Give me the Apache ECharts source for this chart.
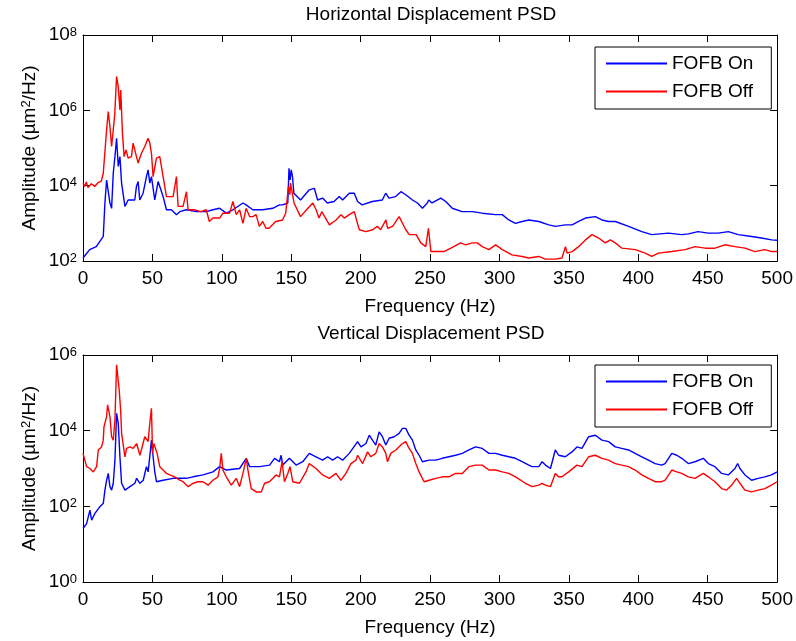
<!DOCTYPE html>
<html><head><meta charset="utf-8">
<script src="https://cdn.jsdelivr.net/npm/echarts@6/dist/echarts.min.js"></script>
<style>html,body{margin:0;padding:0;background:#fff}#c{width:796px;height:641px}</style>
</head><body><div id="c"></div>
<script>
// ---- data ----
const titles = ['Horizontal Displacement PSD', 'Vertical Displacement PSD'];
const seriesNames = ['FOFB On', 'FOFB Off'];
const xLabel = 'Frequency (Hz)';
const xRange = [0, 500];
const topYRange = [1e2, 1e8];
const bottomYRange = [1e0, 1e6];

// Horizontal PSD, FOFB On  [frequency Hz, amplitude um^2/Hz]
const hOn = [[0,120],[4.8,200],[9.6,240],[14.6,450],[15.8,3500],[17,1.41e4],[19.4,3500],[20.6,2500],[21.8,2.14e4],[23,5.9e4],[24.2,1.82e5],[25.4,3.24e4],[26.6,5.9e4],[27.8,1.17e4],[29,1.17e4],[30.2,2820],[32.5,4170],[34.9,4170],[37.3,4170],[38.5,9550],[39.7,1.29e4],[40.9,4170],[43.3,6310],[45.7,1.74e4],[46.9,2.63e4],[48.1,1.17e4],[49.3,1.74e4],[51.7,4170],[54.1,1.29e4],[55.3,1.17e4],[57.7,5130],[60.1,2290],[63.7,2290],[67.3,1700],[69.7,2040],[74.5,2290],[81.7,2040],[88.8,2040],[93.6,2290],[98.4,2510],[103.2,1860],[108,2290],[115.2,3470],[117.5,3090],[122.3,2290],[129.5,2290],[136.7,2510],[141.5,3090],[143.7,3090],[147.5,3470],[148.4,2.88e4],[149.2,1.41e4],[150,2.63e4],[150.9,1.74e4],[151.9,6310],[156.7,4170],[163,7760],[166.6,8510],[169,4170],[172.6,4680],[176,3470],[180.8,3800],[184.6,5130],[187,4170],[191.8,6310],[195.4,6310],[197.8,3800],[201,3090],[208.4,3800],[215.6,4170],[218,6310],[220.4,4680],[225.2,5130],[229,6920],[232.5,5750],[237.3,4170],[240.9,3470],[244.5,2510],[248,3470],[249,4170],[251.4,3470],[257.7,4680],[261.3,3800],[266,2510],[273,2040],[280.5,2040],[287.6,1860],[297.2,1700],[302,1700],[306.7,1230],[311.5,1000],[316.3,1120],[321.2,1230],[328.3,1120],[335.5,912],[340.3,832],[347.5,912],[352.3,912],[357,1120],[361.9,1380],[369,1510],[373.8,1230],[378.6,1120],[383.4,1120],[393,832],[402.5,603],[409.7,501],[421.7,550],[431.3,501],[436.1,525],[443,603],[450.4,550],[457.6,550],[464.8,603],[472,501],[481.6,447],[488.7,407],[496,363],[500,355]];

// Horizontal PSD, FOFB Off
const hOff = [[0,1.17e4],[1.2,9550],[2.4,1.26e4],[3.6,8910],[6,1.12e4],[8.4,9550],[10.8,1.2e4],[13.2,1.32e4],[14.6,2.14e4],[17,3.02e5],[18.2,9.33e5],[19.4,3.72e5],[20.6,1.1e5],[21.8,3.02e5],[22.9,8.32e5],[24.2,7.94e6],[25.4,4.27e6],[26.6,1.02e6],[27.2,3.47e6],[28.4,2.45e5],[29.6,5.89e4],[31,8.91e4],[32.5,5.37e4],[34.9,5.89e4],[36.1,1.35e5],[37.3,1.48e5],[38.5,5.89e4],[39.7,3.98e4],[42.1,7.24e4],[44.5,1.1e5],[46.9,1.82e5],[48.1,1.35e5],[49.3,7.24e4],[50.5,1.74e4],[52.9,5.37e4],[55.3,5.89e4],[57.7,1.74e4],[60.1,5130],[62.5,5130],[64.9,5130],[67.3,1.74e4],[68.5,2820],[72.1,2820],[74.5,6920],[75.7,2290],[80,2290],[85,2040],[88.8,2290],[91,1120],[93.6,1380],[98.4,1380],[100.8,1860],[105.6,1860],[108,3800],[110.4,1700],[112.8,2290],[115.2,1000],[117.5,2510],[120,1510],[122.3,1510],[124.7,1700],[127,832],[129.5,1120],[131.8,741],[134,741],[138.8,1120],[143.7,1230],[146,1860],[148,9550],[149,5750],[149.5,1.17e4],[150.3,1.29e4],[152,3470],[156.7,1510],[161,2290],[165.5,3470],[167.9,2290],[170,1380],[172,2040],[177.5,912],[182.3,1230],[185.8,1700],[188.2,1380],[191.8,1700],[195.4,2040],[199,676],[203.8,603],[208.6,676],[212,832],[214.4,676],[218.2,1230],[219.4,741],[223,832],[227.7,1510],[232.5,676],[235,501],[240,501],[243.3,302],[246.9,240],[248.8,741],[250.6,178],[255,178],[260,178],[265,219],[272,302],[275.7,269],[280.5,302],[284,302],[287.6,240],[292.4,200],[297.2,269],[302,200],[309,145],[316.3,132],[321,120],[328.3,132],[333,112],[340,112],[345,120],[347.5,240],[348.7,162],[352.3,178],[357,240],[361.9,363],[366.6,501],[371.4,407],[376.2,302],[379.8,363],[383.4,302],[388.2,219],[397.8,200],[405,162],[409.7,132],[414.5,162],[424,178],[433.7,200],[440.9,240],[448.1,219],[455.2,219],[462.4,269],[469.6,240],[476.8,219],[484,178],[491.2,200],[496,178],[500,178]];

// Vertical PSD, FOFB On
const vOn = [[0,26],[2.6,35],[5,79],[6.2,43],[8.6,65],[12.2,98],[14.6,120],[15.8,269],[17,490],[18.2,741],[19.4,331],[20.6,269],[21.8,407],[23,1660],[24.2,2.88e4],[25.4,1.55e4],[26.6,2040],[27.8,407],[30.2,269],[33.8,331],[37.4,407],[38.6,550],[41,407],[43.4,490],[45.7,1120],[46.9,813],[48.6,3090],[49.3,5620],[50.5,2040],[51.7,813],[52.9,447],[57.7,490],[64.9,550],[74.5,550],[79.3,603],[86.5,676],[93.6,813],[98.4,1120],[103.2,912],[112.8,1000],[117.6,1860],[120,1120],[127.2,1120],[134.4,1230],[138,1860],[141.5,1510],[142.7,2240],[143.9,1230],[148.7,1860],[153.5,1230],[158.3,1510],[163,2510],[167.8,2040],[172.6,1660],[176.2,2040],[179.8,1660],[183.4,2040],[187,1660],[191.8,2510],[197.8,5130],[200.2,3720],[203.8,4570],[206.2,7590],[208.5,5620],[210.9,4170],[213.3,9330],[215.7,6920],[218.1,4170],[220.5,6310],[224.1,6920],[227.7,8510],[230.1,1.15e4],[232.5,1.15e4],[234.9,7590],[237.3,5620],[239.7,3090],[242.1,2240],[244.5,1510],[249.3,1660],[254.1,1660],[258.8,1860],[263.6,2040],[268.4,2240],[273.2,2510],[278,3090],[282.8,3720],[287.6,3390],[292.4,2510],[297.2,2510],[302,2240],[306.7,2040],[311.5,1860],[316.3,1510],[321.1,1230],[323.5,1120],[328.3,1120],[330.7,1510],[333.1,1230],[336.7,1000],[340.2,3090],[342.6,2240],[347.4,2040],[352.2,2750],[355.8,3720],[359.4,3390],[364.2,6920],[369,7590],[373.8,5620],[378.6,5130],[383.4,3720],[388.1,3390],[392.9,3090],[397.7,2510],[402.5,2040],[407.3,1660],[412.1,1350],[416.9,1230],[419.3,1350],[424.1,2510],[427.7,2240],[431.3,1860],[436,1350],[440.8,1510],[446.8,1860],[450.4,1350],[455.2,1120],[460,741],[464.8,676],[469.6,1000],[471.5,1350],[473.2,1000],[476.8,676],[481.6,490],[486.3,550],[491.1,603],[495.9,676],[500,813]];

// Vertical PSD, FOFB Off
const vOff = [[0,2510],[2.6,1120],[5,1000],[7.4,813],[9.8,1120],[11,3090],[13.4,3720],[14.6,5620],[15.1,1.26e4],[17,2.34e4],[17.7,4.79e4],[19.4,2.34e4],[20.6,6920],[21.8,5620],[23,1.91e4],[24.2,5.5e5],[24.9,6.03e5],[26.1,1.17e5],[27.1,3.47e4],[27.8,8510],[30.2,2040],[31.4,3390],[33.8,3720],[36.2,3390],[38.6,4570],[41,2240],[42.2,2040],[44.5,6920],[46.9,5130],[48.1,1.55e4],[49.3,3.89e4],[50.1,2510],[51,4570],[53.4,2510],[55.3,1120],[57.7,912],[60.1,741],[62.5,676],[66.1,603],[69.7,490],[72.1,447],[75.7,331],[79.3,407],[82.9,447],[86.5,447],[90.1,363],[93.6,490],[97.2,603],[98.4,1000],[99.6,2510],[100.8,912],[103.2,603],[106.8,363],[110.4,550],[112.8,331],[115.2,741],[117.6,1860],[118.8,912],[121.2,295],[124.8,240],[128.4,240],[130.8,407],[134.3,447],[139.1,676],[141.5,603],[143.4,1510],[145.1,447],[147.5,741],[149.1,1120],[151.1,447],[155.9,407],[160.6,813],[163,1350],[167.8,1000],[172.6,676],[177.4,550],[182.2,741],[185.8,490],[189.4,741],[193,1350],[196.6,1660],[197.8,2240],[201.4,1350],[205,2750],[207.3,2040],[210.9,2510],[213.3,4570],[215.7,3720],[218.1,2510],[219.3,1510],[221.7,2510],[225.3,3090],[230.1,4570],[232.5,5130],[234.9,3390],[237.3,2510],[239.7,1350],[242.1,813],[243.3,741],[245.7,447],[249.3,490],[254.1,550],[258.8,603],[263.6,603],[268.4,741],[273.2,741],[278,1120],[282.8,1230],[287.6,1230],[292.4,912],[297.2,912],[302,813],[306.7,741],[311.5,603],[318.7,407],[323.5,331],[328.3,363],[330.7,407],[333.1,363],[336.7,331],[337.9,295],[340.2,741],[342.6,603],[345,603],[349.8,813],[355.8,1230],[359.4,1120],[364.2,2040],[369,2240],[373.8,1860],[378.6,1660],[383.4,1350],[388.1,1230],[392.9,1120],[397.7,912],[402.5,676],[407.3,550],[412.1,447],[416.9,447],[419.3,490],[424.1,912],[427.7,813],[431.3,741],[436,603],[440.8,550],[446.8,741],[450.4,603],[455.2,447],[460,295],[463.6,269],[467.2,363],[470.8,550],[473.2,407],[476.8,269],[481.6,240],[486.3,269],[491.1,295],[495.9,363],[500,447]];

// ---- chart ----
const FONT = 'Liberation Sans, Arial, Helvetica, sans-serif';
const BLUE = '#0000ff', RED = '#ff0000';
const grids = [
  {left: 83, top: 35, width: 696, height: 226},
  {left: 83, top: 355, width: 696, height: 227}
];

function xAx(g, pos, show) {
  return {
    gridIndex: g, type: 'value', position: pos, min: xRange[0], max: xRange[1], interval: 50,
    axisLine: {show: true, onZero: false, lineStyle: {color: '#000', width: 1}},
    axisTick: {show: true, inside: true, length: 7, lineStyle: {color: '#000', width: 1}},
    axisLabel: {show: show, color: '#000', fontFamily: FONT, fontSize: 19, margin: 8},
    splitLine: {show: false},
    name: show ? xLabel : '', nameLocation: 'middle', nameGap: 36, nameMoveOverlap: false,
    nameTextStyle: {color: '#000', fontFamily: FONT, fontSize: 19}
  };
}
const supRich = {
  a: {fontSize: 19, fontFamily: FONT, color: '#000', lineHeight: 19, verticalAlign: 'bottom'},
  b: {fontSize: 13, fontFamily: FONT, color: '#000', lineHeight: 13, verticalAlign: 'top', padding: [0, 0, 11, 0]}
};
function yAx(g, pos, range, show) {
  return {
    gridIndex: g, type: 'log', logBase: 10, position: pos, min: range[0], max: range[1], interval: 2,
    axisLine: {show: true, onZero: false, lineStyle: {color: '#000', width: 1}},
    axisTick: {show: true, inside: true, length: 7, lineStyle: {color: '#000', width: 1}},
    minorTick: {show: false},
    axisLabel: {
      show: show, margin: 6,
      formatter: v => '{a|10}{b|' + Math.round(Math.log10(v)) + '}',
      rich: supRich
    },
    splitLine: {show: false},
    name: show ? '{a|Amplitude (\u00b5m}{b|2}{a|/Hz)}' : '',
    nameLocation: 'middle', nameRotate: 90, nameGap: 44, nameMoveOverlap: false,
    nameTextStyle: {rich: supRich}
  };
}
function legend(top) {
  return {
    left: 595, top: top, orient: 'vertical', icon: 'rect', itemWidth: 61, itemHeight: 2, itemGap: 9,
    padding: [7, 18, 8, 11], borderColor: '#000', borderWidth: 1, backgroundColor: '#fff',
    textStyle: {fontSize: 19, fontFamily: FONT, color: '#000'},
    data: seriesNames
  };
}
function line(name, xi, yi, data, color) {
  return {
    type: 'line', name: name, xAxisIndex: xi, yAxisIndex: yi, data: data,
    showSymbol: false, symbol: 'none', smooth: false,
    lineStyle: {color: color, width: 1.4}, itemStyle: {color: color}
  };
}
const titleStyle = {fontSize: 19, fontWeight: 'normal', fontFamily: FONT, color: '#000'};

const chart = echarts.init(document.getElementById('c'), null, {renderer: 'canvas'});
chart.setOption({
  animation: false,
  backgroundColor: '#fff',
  title: [
    {text: titles[0], left: 431, top: 5, textAlign: 'center', padding: 0, textStyle: titleStyle},
    {text: titles[1], left: 431, top: 324, textAlign: 'center', padding: 0, textStyle: titleStyle}
  ],
  legend: [legend(47), legend(365)],
  grid: grids,
  xAxis: [xAx(0, 'bottom', true), xAx(0, 'top', false), xAx(1, 'bottom', true), xAx(1, 'top', false)],
  yAxis: [yAx(0, 'left', topYRange, true), yAx(0, 'right', topYRange, false),
          yAx(1, 'left', bottomYRange, true), yAx(1, 'right', bottomYRange, false)],
  series: [
    line(seriesNames[0], 0, 0, hOn, BLUE),
    line(seriesNames[1], 0, 0, hOff, RED),
    line(seriesNames[0], 2, 2, vOn, BLUE),
    line(seriesNames[1], 2, 2, vOff, RED)
  ]
});
</script></body></html>
